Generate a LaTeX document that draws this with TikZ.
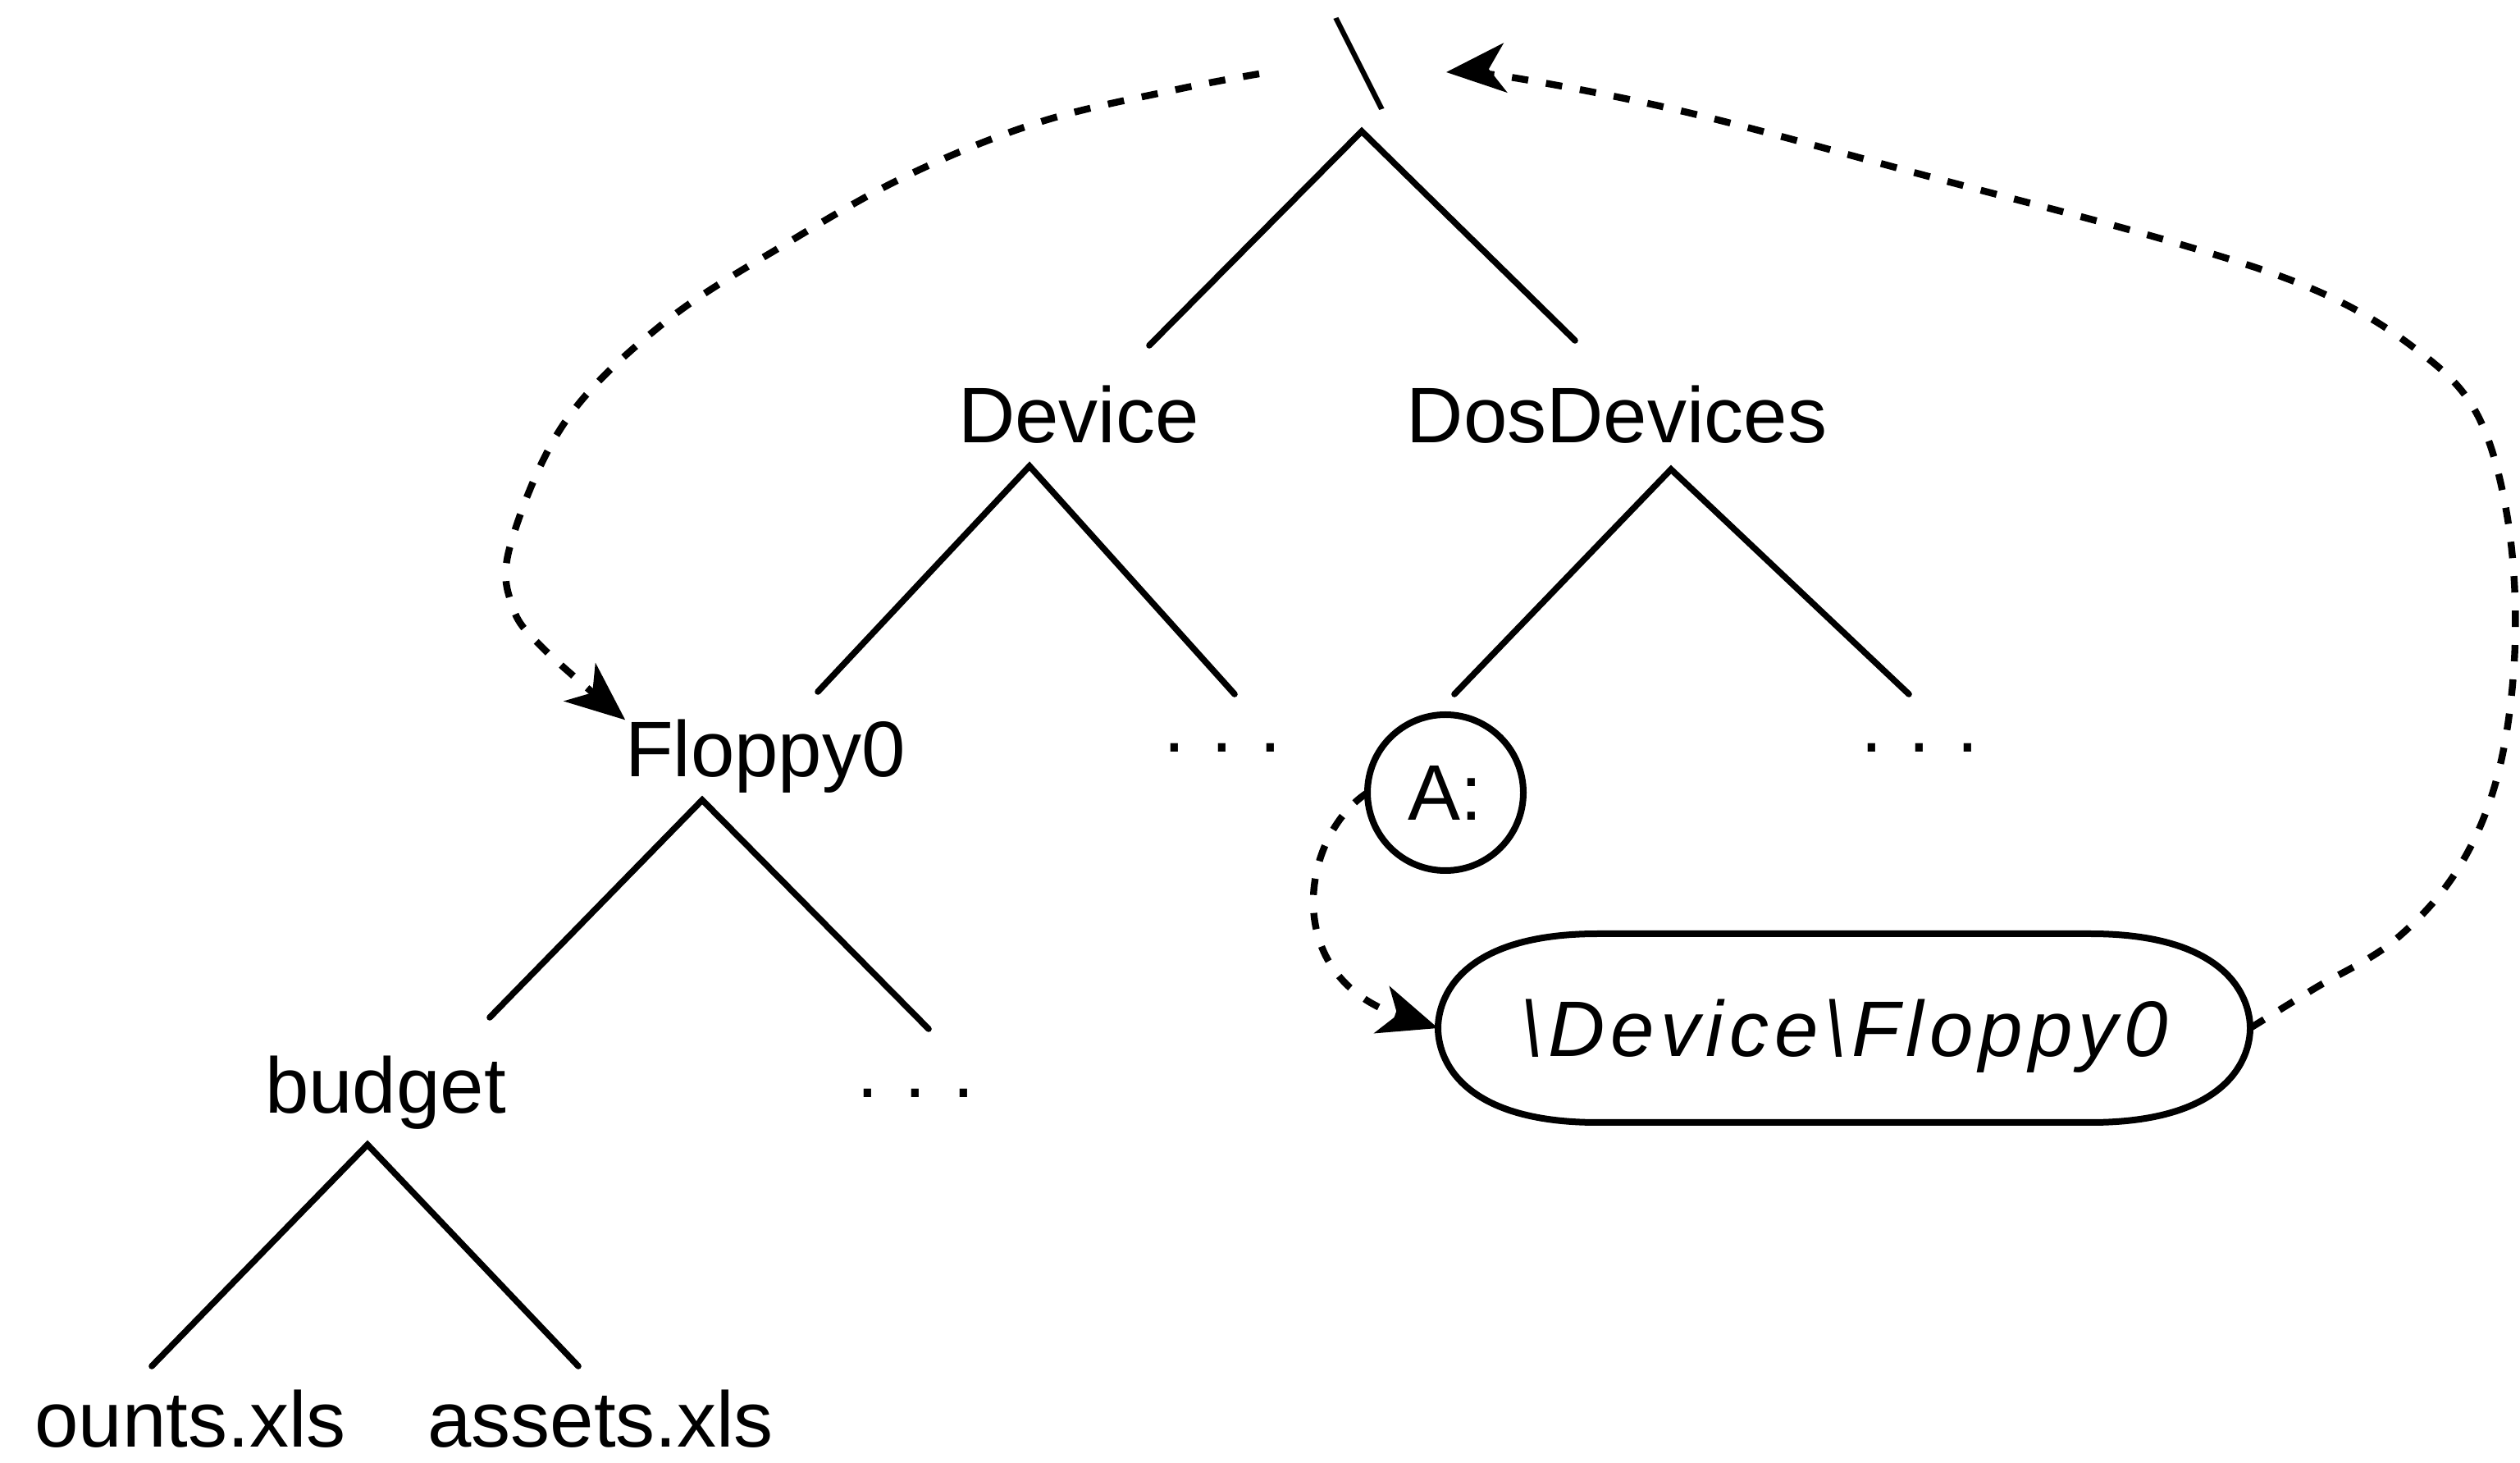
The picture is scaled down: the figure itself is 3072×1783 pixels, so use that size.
\documentclass[tikz,border=0pt]{standalone}
\usepackage{fontspec}
\setmainfont{Liberation Sans}
\usetikzlibrary{arrows.meta,calc}
\begin{document}
\begin{tikzpicture}[x=0.25pt,y=-0.25pt,
  lbl/.style={font=\fontsize{24}{28}\selectfont, inner sep=0pt, outer sep=0pt, anchor=base},
  branch/.style={line width=1.9pt, line cap=round, line join=miter},
  link/.style={line width=2.1pt, dash pattern=on 5pt off 5.5pt,
    -{Stealth[length=18pt,width=15pt,inset=5pt]}},
  outline/.style={line width=2pt}]
\useasboundingbox (0,0) rectangle (3072,1783);

% labels
\node[lbl, anchor=center] (root) at (1657,78) {\rotatebox{19}{\scalebox{0.6}[1.2]{\fontsize{35}{35}\selectfont\textbackslash}}};
\node[lbl] (device) at (1315,540) {Device};
\node[lbl] (dosdev) at (1971,540) {DosDevices};
\node[lbl] (floppy) at (933,947) {Floppy0};
\node[lbl] (devdots) at (1490,917) {.\hspace{0.33em}.\hspace{0.33em}.};
\node[lbl, anchor=center, circle, draw, outline, minimum size=47.5pt] (A) at (1762,966) {A:};
\node[lbl] (dosdots) at (2340,917) {.\hspace{0.33em}.\hspace{0.33em}.};
\node[lbl, anchor=center, text depth=0pt, minimum width=247.5pt, minimum height=57.5pt] (e) at (2248,1253)
  {\itshape\addfontfeatures{LetterSpace=7.5}\textbackslash Device\textbackslash Floppy0};
\node[lbl] (budget) at (470,1357) {budget};
\node[lbl] (bdots) at (1116,1337) {.\hspace{0.33em}.\hspace{0.33em}.};
\node[lbl] (accounts) at (232,1763) {ounts.xls};
\node[lbl] (assets) at (732,1763) {assets.xls};

% outline of the link node
\draw[outline] ($(e.north)+(-300,0)$) -- ($(e.north)+(300,0)$)
  .. controls ($(e.north)+(470,0)$) and ($(e.east)+(0,-35)$) .. (e.east)
  .. controls ($(e.east)+(0,35)$) and ($(e.south)+(470,0)$) .. ($(e.south)+(300,0)$)
  -- ($(e.south)+(-300,0)$)
  .. controls ($(e.south)+(-470,0)$) and ($(e.west)+(0,35)$) .. (e.west)
  .. controls ($(e.west)+(0,-35)$) and ($(e.north)+(-470,0)$) .. cycle;

% tree branches
\coordinate (rap) at (1660,160);
\coordinate (rl) at (1401,421);
\coordinate (rr) at (1920,415);
\coordinate (dap) at (1255,568);
\coordinate (dl) at (997,843);
\coordinate (dr) at (1505,846);
\coordinate (sap) at (2037,572);
\coordinate (sl) at (1773,846);
\coordinate (sr) at (2327,846);
\coordinate (fap) at (856,975);
\coordinate (fl) at (597,1240);
\coordinate (fr) at (1132,1254);
\coordinate (bap) at (448,1395);
\coordinate (bl) at (185,1665);
\coordinate (br) at (705,1665);
\draw[branch] (rl) -- (rap) -- (rr);
\draw[branch] (dl) -- (dap) -- (dr);
\draw[branch] (sl) -- (sap) -- (sr);
\draw[branch] (fl) -- (fap) -- (fr);
\draw[branch] (bl) -- (bap) -- (br);

% dashed links
\coordinate (rootL) at ($(root.center)+(-122,12)$);
\coordinate (rootR) at ($(root.center)+(106,10)$);
\draw[link] plot[smooth, tension=0.6] coordinates {(rootL) (1435,109) (1270,148) (1110,212) (960,296) (810,393) (689,514) (622,665) (625,740) (664,792) (floppy.north west)};
\draw[link] (A.west) .. controls (1585,1020) and (1560,1190) .. (e.west);
\draw[link] plot[smooth, tension=0.6] coordinates {(e.east) (2821,1205) (2919,1146) (2997,1058) (3046,940) (3066,784) (3056,627) (3017,500) (2939,421) (2821,353) (2645,294) (2351,215) (2057,137) (1841,94) (rootR)};
\end{tikzpicture}
\end{document}
